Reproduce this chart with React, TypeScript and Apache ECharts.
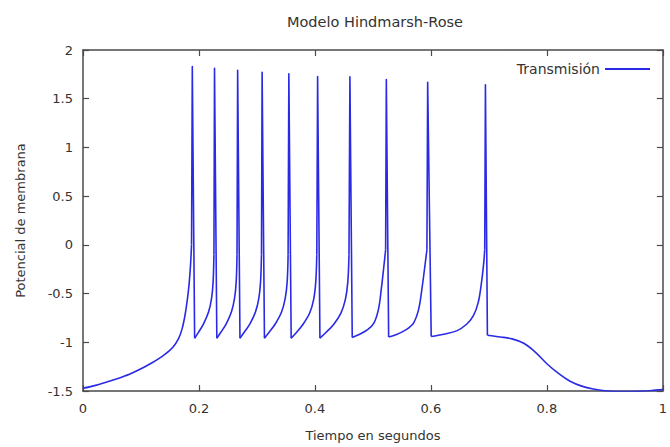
import React, { useEffect, useRef } from "react";
import * as echarts from "echarts";

// Membrane potential trace, read as [time (s), potential] pairs.
// Slow depolarisation before the first spike.
const onset: [number, number][] = [
  [0.0, -1.472], [0.02, -1.445], [0.04, -1.41], [0.06, -1.372], [0.08, -1.328],
  [0.1, -1.272], [0.12, -1.208], [0.14, -1.13], [0.155, -1.05], [0.165, -0.96],
  [0.171, -0.86], [0.176, -0.72], [0.18, -0.56], [0.183, -0.4], [0.1855, -0.2],
  [0.1872, 0.0],
];

// Spike maxima.
const peaks: [number, number][] = [
  [0.1885, 1.829], [0.2268, 1.813], [0.2667, 1.792], [0.3089, 1.772], [0.355, 1.757],
  [0.4046, 1.727], [0.4603, 1.724], [0.5231, 1.696], [0.5944, 1.669], [0.694, 1.642],
];

// After-hyperpolarisation and recovery between consecutive spikes.
const rise1: [number, number][] = [
  [0.1925, -0.958], [0.1994, -0.895], [0.2079, -0.81], [0.2165, -0.69],
  [0.2217, -0.55], [0.2244, -0.38], [0.2258, -0.1],
];
const rise2: [number, number][] = [
  [0.2308, -0.958], [0.238, -0.895], [0.247, -0.81], [0.2559, -0.69],
  [0.2613, -0.55], [0.2642, -0.38], [0.2656, -0.1],
];
const rise3: [number, number][] = [
  [0.2707, -0.958], [0.2783, -0.895], [0.2879, -0.81], [0.2974, -0.69],
  [0.3032, -0.55], [0.3062, -0.38], [0.3078, -0.1],
];
const rise4: [number, number][] = [
  [0.3129, -0.958], [0.3213, -0.895], [0.3318, -0.81], [0.3424, -0.69],
  [0.3487, -0.55], [0.3521, -0.38], [0.3537, -0.1],
];
const rise5: [number, number][] = [
  [0.359, -0.958], [0.3681, -0.9], [0.3795, -0.815], [0.3909, -0.7],
  [0.3978, -0.56], [0.4014, -0.38], [0.4032, -0.1],
];
const rise6: [number, number][] = [
  [0.4086, -0.958], [0.4189, -0.9], [0.4319, -0.82], [0.4448, -0.7],
  [0.4525, -0.56], [0.4567, -0.38], [0.4587, -0.1],
];
const rise7: [number, number][] = [
  [0.4643, -0.95], [0.4761, -0.92], [0.4908, -0.87], [0.5019, -0.8],
  [0.5096, -0.66], [0.5143, -0.46], [0.5196, -0.18], [0.5219, -0.05],
];
const rise8: [number, number][] = [
  [0.5271, -0.945], [0.5406, -0.92], [0.5574, -0.87], [0.5702, -0.8],
  [0.5789, -0.66], [0.5843, -0.46], [0.5904, -0.18], [0.5931, -0.05],
];
const rise9: [number, number][] = [
  [0.6005, -0.941], [0.6219, -0.917], [0.6444, -0.883], [0.6615, -0.815],
  [0.673, -0.73], [0.6815, -0.593], [0.6872, -0.388], [0.6911, -0.183], [0.6928, -0.047],
];

// Return to rest after the last spike.
const recovery: [number, number][] = [
  [0.6974, -0.927], [0.72, -0.945], [0.74, -0.965], [0.76, -1.01], [0.78, -1.1],
  [0.8, -1.22], [0.82, -1.32], [0.84, -1.4], [0.86, -1.45], [0.88, -1.48],
  [0.9, -1.497], [0.93, -1.506], [0.96, -1.503], [0.98, -1.495], [1.0, -1.485],
];

const xTicks = { min: 0, max: 1, step: 0.2 };
const yTicks = { min: -1.5, max: 2, step: 0.5 };

// Slow parts are smoothed; spikes are drawn as straight strokes joining them.
const slowParts = [onset, rise1, rise2, rise3, rise4, rise5, rise6, rise7, rise8, rise9, recovery];

const slowData: ([number, number] | null)[] = [];
slowParts.forEach((part, i) => {
  if (i > 0) slowData.push(null);
  slowData.push(...part);
});

const spikeData: ([number, number] | null)[] = [];
peaks.forEach((peak, i) => {
  const before = slowParts[i];
  const after = slowParts[i + 1];
  spikeData.push(before[before.length - 1], peak, after[0], null);
});

const FONT = "DejaVu Sans";
const TEXT = "#333";
const FRAME = "#4a4a4a";
const BLUE = "#2a2ae6";

export default function App() {
  const ref = useRef<HTMLDivElement>(null);

  useEffect(() => {
    if (!ref.current) return;
    const chart = echarts.init(ref.current, undefined, { renderer: "svg" });

    const frameAxis = {
      axisLine: { show: true, onZero: false, lineStyle: { color: FRAME, width: 1.5 } },
      axisTick: { show: true, inside: true, length: 6, lineStyle: { color: FRAME, width: 1.2 } },
      splitLine: { show: false },
    };

    chart.setOption({
      animation: false,
      backgroundColor: "#fff",
      textStyle: { fontFamily: FONT },
      title: {
        text: "Modelo Hindmarsh-Rose",
        left: 370,
        top: 9,
        textAlign: "center",
        textStyle: { fontFamily: FONT, fontSize: 14.5, fontWeight: "normal", color: TEXT },
      },
      legend: {
        right: 15,
        top: 57,
        align: "right",
        icon: "rect",
        itemWidth: 45,
        itemHeight: 2,
        itemGap: 8,
        textStyle: { fontFamily: FONT, fontSize: 14, color: TEXT },
        data: ["Transmisión"],
      },
      grid: { left: 83, right: 2, top: 50, bottom: 55 },
      xAxis: [
        {
          type: "value",
          position: "bottom",
          min: xTicks.min,
          max: xTicks.max,
          interval: xTicks.step,
          name: "Tiempo en segundos",
          nameLocation: "middle",
          nameGap: 38,
          nameTextStyle: { fontFamily: FONT, fontSize: 13, color: TEXT },
          axisLabel: { margin: 11, fontFamily: FONT, fontSize: 13, color: TEXT },
          ...frameAxis,
        },
        {
          type: "value",
          position: "top",
          min: xTicks.min,
          max: xTicks.max,
          interval: xTicks.step,
          axisLabel: { show: false },
          ...frameAxis,
        },
      ],
      yAxis: [
        {
          type: "value",
          position: "left",
          min: yTicks.min,
          max: yTicks.max,
          interval: yTicks.step,
          name: "Potencial de membrana",
          nameLocation: "middle",
          nameGap: 56,
          nameTextStyle: { fontFamily: FONT, fontSize: 13, color: TEXT },
          axisLabel: { margin: 10, fontFamily: FONT, fontSize: 13, color: TEXT },
          ...frameAxis,
        },
        {
          type: "value",
          position: "right",
          min: yTicks.min,
          max: yTicks.max,
          interval: yTicks.step,
          axisLabel: { show: false },
          ...frameAxis,
        },
      ],
      series: [
        {
          name: "Transmisión",
          type: "line",
          data: slowData,
          connectNulls: false,
          showSymbol: false,
          smooth: 0.35,
          color: BLUE,
          lineStyle: { color: BLUE, width: 1.6 },
        },
        {
          name: "Transmisión",
          type: "line",
          data: spikeData,
          connectNulls: false,
          showSymbol: false,
          smooth: false,
          color: BLUE,
          lineStyle: { color: BLUE, width: 1.6, join: "round" },
        },
      ],
    });

    return () => chart.dispose();
  }, []);

  return (
    <div
      ref={ref}
      style={{ position: "fixed", left: 0, top: 0, width: 670, height: 447 }}
    />
  );
}
